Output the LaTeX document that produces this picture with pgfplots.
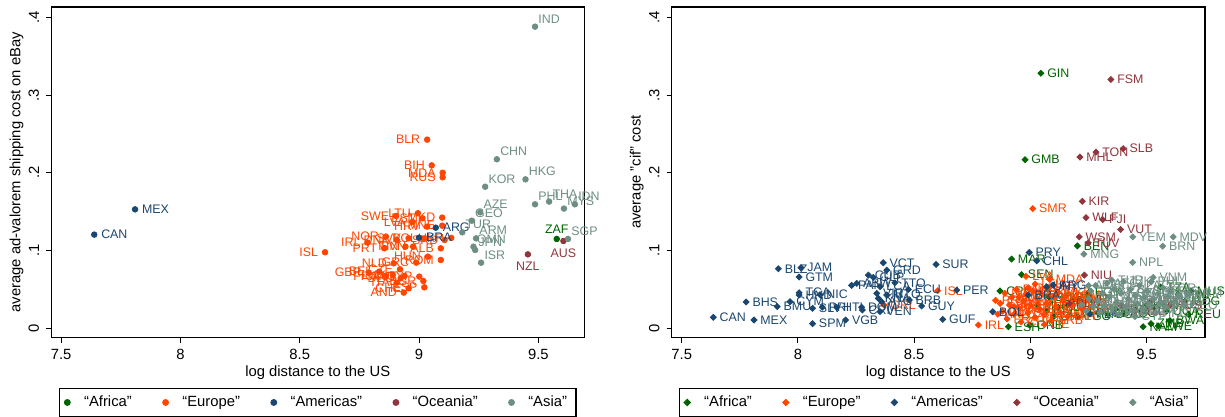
\documentclass[border=0pt]{standalone}
\usepackage{fontspec}
\setmainfont{Liberation Sans}
\usepackage{pgfplots}
\pgfplotsset{compat=1.18}
\usepackage{pgfplotstable}

\definecolor{afr}{HTML}{006400}
\definecolor{eur}{HTML}{FF4500}
\definecolor{ame}{HTML}{1A476F}
\definecolor{oce}{HTML}{90353B}
\definecolor{asi}{HTML}{6E8E84}

\newcommand\tickfont{\fontsize{7.4}{8.5}\selectfont}
\newcommand\ptfont{\fontsize{6.2}{7}\selectfont}

% ---- left panel: eBay shipping cost ----
\pgfplotstableread{
x y lab
9.577 0.1149 ZAF
}\LAfr
\pgfplotstableread{
x y lab
9.034 0.2427 BLR
9.053 0.2096 BIH
9.099 0.2001 MDA
9.099 0.1942 RUS
8.606 0.0978 ISL
8.904 0.1445 SWE
8.995 0.1480 LTU
9.014 0.1415 EST
9.097 0.1424 MKD
8.972 0.1368 LVA
9.034 0.1308 HRV
9.097 0.1320 MNE
9.135 0.1162 UKR
9.107 0.1136 SRB
8.861 0.1179 NOR
8.784 0.1102 IRL
8.907 0.1136 DNK
8.956 0.1158 SVK
9.021 0.1153 POL
8.854 0.1029 PRT
8.943 0.1051 FIN
8.975 0.1051 SVN
9.091 0.1029 ALB
9.037 0.0922 HUN
9.091 0.0879 ROM
8.988 0.0845 GRC
8.894 0.0836 NLD
8.920 0.0759 CZE
8.789 0.0716 GBR
8.833 0.0729 BEL
8.858 0.0673 FRA
8.890 0.0686 LUX
8.923 0.0643 DEU
8.939 0.0673 AUT
9.001 0.0665 CYP
9.018 0.0609 BGR
8.907 0.0587 ITA
8.956 0.0515 CHE
9.022 0.0527 ESP
8.936 0.0459 AND
}\LEur
\pgfplotstableread{
x y lab
7.639 0.1205 CAN
7.810 0.1530 MEX
9.070 0.1294 ARG
9.000 0.1166 BRA
}\LAme
\pgfplotstableread{
x y lab
9.456 0.0951 NZL
9.605 0.1123 AUS
}\LOce
\pgfplotstableread{
x y lab
9.486 0.3880 IND
9.326 0.2174 CHN
9.446 0.1916 HKG
9.277 0.1821 KOR
9.486 0.1595 PHL
9.545 0.1630 THA
9.607 0.1540 MYS
9.653 0.1595 IDN
9.256 0.1492 AZE
9.221 0.1384 GEO
9.181 0.1235 TUR
9.239 0.1157 ARM
9.228 0.1050 OMN
9.235 0.1007 JPN
9.260 0.0844 ISR
9.624 0.1149 SGP
}\LAsi

% ---- right panel: cif cost ----
\pgfplotstableread{
x y lab
9.045 0.3280 GIN
8.977 0.2169 GMB
8.919 0.0890 MAR
8.962 0.0690 SEN
8.869 0.0480 CPV
8.905 0.0020 ESH
8.998 0.0040 GNB
9.202 0.1060 BEN
9.030 0.0300 MLI
9.100 0.0150 GHA
9.070 0.0220 CIV
9.140 0.0400 LBR
9.120 0.0270 SLE
9.205 0.0150 TGO
9.250 0.0460 EGY
9.185 0.0370 CMR
9.290 0.0200 TCD
9.365 0.0250 SDN
9.450 0.0240 ETH
9.500 0.0300 KEN
9.560 0.0530 TZA
9.585 0.0220 UGA
9.635 0.0440 MWI
9.690 0.0480 MUS
9.680 0.0180 REU
9.665 0.0350 MDG
9.519 0.0060 ZMB
9.485 0.0020 NAM
9.550 0.0030 ZWE
9.600 0.0100 BWA
9.400 0.0200 AGO
9.335 0.0180 COD
9.160 0.0300 TUN
9.080 0.0400 DZA
9.225 0.0250 LBY
}\RAfr
\pgfplotstableread{
x y lab
9.010 0.1540 SMR
8.601 0.0483 ISL
8.776 0.0042 IRL
8.370 0.0300 GRL
8.981 0.0667 LVA
9.082 0.0629 MDA
8.850 0.0360 PRT
8.870 0.0320 ESP
8.880 0.0220 GBR
8.890 0.0450 NOR
8.900 0.0120 FRA
8.910 0.0300 BEL
8.920 0.0400 NLD
8.930 0.0180 LUX
8.940 0.0500 DNK
8.950 0.0260 DEU
8.960 0.0080 CHE
8.970 0.0350 AUT
8.980 0.0440 ITA
8.990 0.0200 SWE
9.000 0.0300 FIN
9.010 0.0480 EST
9.020 0.0140 POL
9.030 0.0380 CZE
9.040 0.0250 SVK
9.050 0.0440 HUN
9.060 0.0180 SVN
9.070 0.0320 HRV
9.080 0.0520 BIH
9.090 0.0100 SRB
9.100 0.0400 MNE
9.110 0.0280 ALB
9.120 0.0460 MKD
9.130 0.0200 GRC
9.140 0.0350 BGR
9.150 0.0420 ROM
9.160 0.0150 MLT
9.180 0.0300 UKR
9.200 0.0380 BLR
9.220 0.0250 RUS
9.020 0.0570 LTU
8.860 0.0180 AND
8.950 0.0400 MCO
9.060 0.0050 LIE
8.930 0.0280 FRO
8.990 0.0520 GIB
}\REur
\pgfplotstableread{
x y lab
7.636 0.0141 CAN
7.811 0.0107 MEX
7.777 0.0338 BHS
7.916 0.0766 BLZ
8.013 0.0779 JAM
8.005 0.0659 GTM
7.911 0.0278 BMU
7.966 0.0342 CYM
8.005 0.0458 TCA
8.005 0.0428 HND
8.095 0.0432 NIC
8.063 0.0257 SLV
8.105 0.0270 PRI
8.167 0.0270 HTI
8.063 0.0060 SPM
8.205 0.0107 VGB
8.231 0.0552 PAN
8.253 0.0578 ABW
8.274 0.0270 DOM
8.277 0.0235 CRI
8.303 0.0684 CUB
8.324 0.0655 GLP
8.339 0.0449 VIR
8.346 0.0385 KNA
8.353 0.0535 LCA
8.367 0.0843 VCT
8.382 0.0749 GRD
8.417 0.0586 TTO
8.360 0.0342 ATG
8.382 0.0428 MTQ
8.353 0.0214 VEN
8.475 0.0500 ECU
8.479 0.0364 BRB
8.532 0.0286 GUY
8.594 0.0821 SUR
8.623 0.0115 GUF
8.683 0.0491 PER
8.838 0.0213 BOL
8.995 0.0975 PRY
9.027 0.0868 CHL
8.991 0.0427 BRA
9.070 0.0534 URY
9.098 0.0556 ARG
9.256 0.0184 FLK
}\RAme
\pgfplotstableread{
x y lab
9.346 0.3200 FSM
9.399 0.2310 SLB
9.282 0.2266 TON
9.213 0.2203 MHL
9.223 0.1634 KIR
9.239 0.1424 WLF
9.311 0.1399 FJI
9.388 0.1270 VUT
9.210 0.1176 WSM
9.249 0.1099 TUV
9.232 0.0684 NIU
9.168 0.0320 PLW
9.390 0.0290 PNG
9.600 0.0300 AUS
9.450 0.0220 NZL
9.520 0.0350 NCL
}\ROce
\pgfplotstableread{
x y lab
9.440 0.1176 YEM
9.614 0.1176 MDV
9.569 0.1056 BRN
9.230 0.0954 MNG
9.440 0.0847 NPL
9.528 0.0654 VNM
9.220 0.0300 IRQ
9.240 0.0220 SYR
9.250 0.0380 LBN
9.260 0.0480 JOR
9.270 0.0280 KWT
9.280 0.0550 PAK
9.290 0.0350 SAU
9.300 0.0200 BHR
9.310 0.0450 QAT
9.320 0.0300 ARE
9.330 0.0580 AFG
9.340 0.0400 OMN
9.350 0.0250 IRN
9.360 0.0500 UZB
9.370 0.0330 TKM
9.380 0.0180 KAZ
9.390 0.0450 KGZ
9.400 0.0600 TJK
9.410 0.0280 IND
9.420 0.0380 BGD
9.430 0.0500 LKA
9.440 0.0220 BTN
9.450 0.0420 MMR
9.460 0.0320 THA
9.470 0.0550 LAO
9.480 0.0250 KHM
9.490 0.0400 MYS
9.500 0.0480 SGP
9.510 0.0300 IDN
9.520 0.0600 PHL
9.530 0.0380 CHN
9.540 0.0200 HKG
9.550 0.0450 MAC
9.560 0.0330 TWN
9.570 0.0520 KOR
9.580 0.0270 PRK
9.590 0.0400 JPN
9.600 0.0480 TLS
9.620 0.0350 ISR
9.640 0.0420 PSE
9.660 0.0300 GEO
9.680 0.0450 ARM
9.250 0.0550 AZE
9.450 0.0150 CYP
9.350 0.0620 TUR
}\RAsi

\pgfplotsset{
  statabase/.style={
    scale only axis, height=165.15pt,
    ymin=-0.01158, ymax=0.4133,
    xtick={7.5,8,8.5,9,9.5}, xticklabels={7.5,8,8.5,9,9.5},
    ytick={0,0.1,0.2,0.3,0.4}, yticklabels={0,.1,.2,.3,.4},
    tick align=outside, tick pos=left, major tick length=2.6pt,
    tick style={black, line width=0.5pt},
    axis line style={line width=0.6pt},
    ticklabel style={font=\tickfont},
    yticklabel style={rotate=90, anchor=south},
    label style={font=\tickfont},
    xlabel style={at={(axis description cs:0.5,0)}, anchor=base, yshift=-19.35pt},
    clip=false,
    legend columns=5,
    legend cell align=left,
    legend image code/.code={\draw[##1] plot coordinates {(0pt,0pt)};},
    legend style={at={(axis description cs:0.5,0)}, anchor=north, yshift=-25.35pt,
      draw=black, line width=0.6pt, font=\tickfont, inner xsep=2.5pt, inner ysep=1.5pt,
      /tikz/every odd column/.append style={column sep=5pt},
      /tikz/every even column/.append style={column sep=13.5pt}},
  },
  grp/.style 2 args={only marks, color=#1, mark options={draw=none, fill=#1},
    nodes near coords, point meta=explicit symbolic,
    nodes near coords style={font=\ptfont, color=#1, #2}},
}

\begin{document}
\begin{tikzpicture}
\path[use as bounding box] (-25.65pt,-39.85pt) rectangle (586.85pt,168.65pt);

\begin{axis}[statabase, width=266.45pt, xmin=7.459, xmax=9.692,
  xlabel={log distance to the US},
  ylabel={average ad-valorem shipping cost on eBay},
  ylabel style={at={(axis description cs:-0.0582,0.5)}, anchor=base}]
\addplot[grp={afr}{anchor=south, inner sep=2.6pt}, mark=*, mark size=1.4pt] table[x=x, y=y, meta=lab] {\LAfr};
\addlegendentry{“Africa”}
\addplot[grp={eur}{anchor=east, inner xsep=3.3pt}, mark=*, mark size=1.4pt] table[x=x, y=y, meta=lab] {\LEur};
\addlegendentry{“Europe”}
\addplot[grp={ame}{anchor=west, inner xsep=3.3pt}, mark=*, mark size=1.4pt] table[x=x, y=y, meta=lab] {\LAme};
\addlegendentry{“Americas”}
\addplot[grp={oce}{anchor=north, inner ysep=3.8pt}, mark=*, mark size=1.4pt] table[x=x, y=y, meta=lab] {\LOce};
\addlegendentry{“Oceania”}
\addplot[grp={asi}{anchor=south west, inner sep=1.5pt}, mark=*, mark size=1.4pt] table[x=x, y=y, meta=lab] {\LAsi};
\addlegendentry{“Asia”}
\end{axis}

\begin{axis}[statabase, at={(310.2pt,0pt)}, width=266.65pt, xmin=7.457, xmax=9.751,
  xlabel={log distance to the US},
  ylabel={average "cif" cost},
  ylabel style={at={(axis description cs:-0.0582,0.5)}, anchor=base}]
\addplot[grp={afr}{anchor=west, inner xsep=3pt}, mark=square*, mark size=1.05pt, mark options={rotate=45}] table[x=x, y=y, meta=lab] {\RAfr};
\addlegendentry{“Africa”}
\addplot[grp={eur}{anchor=west, inner xsep=3pt}, mark=square*, mark size=1.05pt, mark options={rotate=45}] table[x=x, y=y, meta=lab] {\REur};
\addlegendentry{“Europe”}
\addplot[grp={ame}{anchor=west, inner xsep=3pt}, mark=square*, mark size=1.05pt, mark options={rotate=45}] table[x=x, y=y, meta=lab] {\RAme};
\addlegendentry{“Americas”}
\addplot[grp={oce}{anchor=west, inner xsep=3pt}, mark=square*, mark size=1.05pt, mark options={rotate=45}] table[x=x, y=y, meta=lab] {\ROce};
\addlegendentry{“Oceania”}
\addplot[grp={asi}{anchor=west, inner xsep=3pt}, mark=square*, mark size=1.05pt, mark options={rotate=45}] table[x=x, y=y, meta=lab] {\RAsi};
\addlegendentry{“Asia”}
\end{axis}
\end{tikzpicture}
\end{document}
